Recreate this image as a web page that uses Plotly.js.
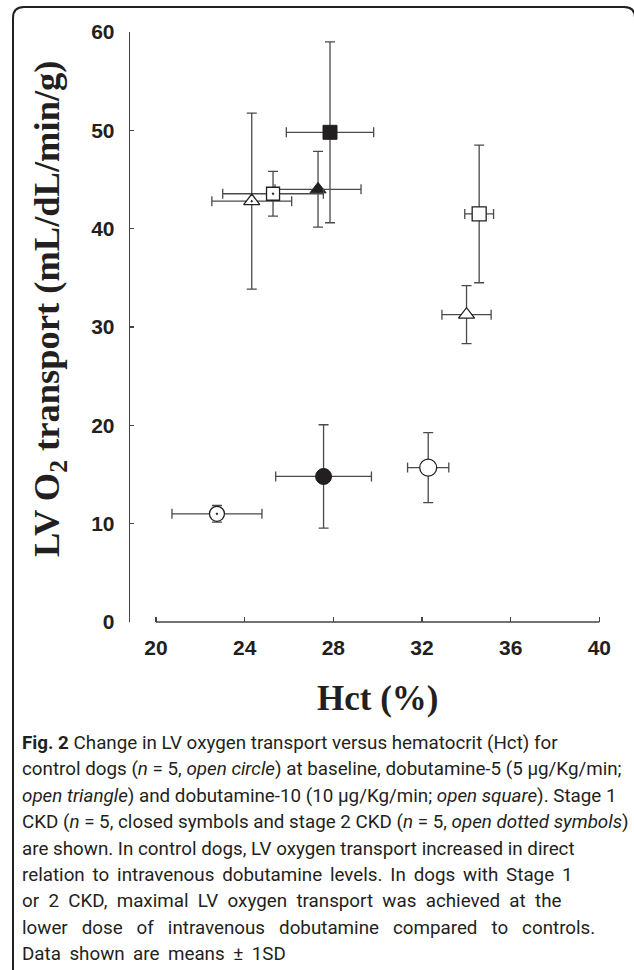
<!DOCTYPE html>
<html>
<head>
<meta charset="utf-8">
<script src="https://cdn.plot.ly/plotly-3.0.1.min.js"></script>
<style>
  html, body { margin: 0; padding: 0; background: #ffffff; }
  #chart { width: 634px; height: 970px; }
</style>
</head>
<body>
<div id="chart"></div>
<script>
// ---- data (means ± 1SD) ----
const conditions = ['Baseline', 'Dobutamine-5', 'Dobutamine-10'];

// Control dogs (open symbols)
const controlHct   = [32.28, 34.01, 34.58];
const controlHctSD = [0.93, 1.11, 0.65];
const controlO2    = [15.7, 31.25, 41.5];
const controlO2SD  = [3.55, 2.95, 7.0];

// Stage 1 CKD (closed symbols)
const stage1Hct   = [27.56, 27.31, 27.85];
const stage1HctSD = [2.16, 1.94, 1.97];
const stage1O2    = [14.8, 44.0, 49.8];
const stage1O2SD  = [5.26, 3.85, 9.2];

// Stage 2 CKD (open dotted symbols)
const stage2Hct   = [22.75, 24.32, 25.28];
const stage2HctSD = [2.03, 1.8, 2.27];
const stage2O2    = [11.0, 42.8, 43.55];
const stage2O2SD  = [0.85, 8.95, 2.27];

const xTicks = [20, 24, 28, 32, 36, 40];
const yTicks = [0, 10, 20, 30, 40, 50, 60];

const xTitle = 'Hct (%)';
const yTitle = 'LV O<sub>2</sub> transport (mL/dL/min/g)';

const captionLines = [
  '<b>Fig. 2</b> Change in LV oxygen transport versus hematocrit (Hct) for',
  'control dogs (<i>n</i> = 5, <i>open circle</i>) at baseline, dobutamine-5 (5 μg/Kg/min;',
  '<i>open triangle</i>) and dobutamine-10 (10 μg/Kg/min; <i>open square</i>). Stage 1',
  'CKD (<i>n</i> = 5, closed symbols and stage 2 CKD (<i>n</i> = 5, <i>open dotted symbols</i>)',
  'are shown. In control dogs, LV oxygen transport increased in direct',
  'relation to intravenous dobutamine levels. In dogs with Stage 1',
  'or 2 CKD, maximal LV oxygen transport was achieved at the',
  'lower dose of intravenous dobutamine compared to controls.',
  'Data shown are means ± 1SD'
];
// extra word spacing per caption line (the printed caption is justified)
const captionExtraGap = ['', '', '', '', '', '\u2006', '\u00A0', '\u00A0\u00A0', '\u2009'];

// ---- styling ----
const ink = '#231f20';
const barColor = '#4a4a4a';

function errBar(sd) { return {type: 'data', array: sd, visible: true, color: barColor, thickness: 1.3, width: 5}; }

const traces = [
  {
    name: 'Control', x: controlHct, y: controlO2, text: conditions,
    type: 'scatter', mode: 'markers',
    error_x: errBar(controlHctSD), error_y: errBar(controlO2SD),
    marker: {symbol: ['circle', 'triangle-up', 'square'], size: [17, 14, 14], opacity: 1,
             color: '#ffffff', line: {color: ink, width: 1.3}}
  },
  {
    name: 'Stage 1 CKD', x: stage1Hct, y: stage1O2, text: conditions,
    type: 'scatter', mode: 'markers',
    error_x: errBar(stage1HctSD), error_y: errBar(stage1O2SD),
    marker: {symbol: ['circle', 'triangle-up', 'square'], size: [16, 14, 14], opacity: 1,
             color: ink, line: {color: ink, width: 1}}
  },
  {
    name: 'Stage 2 CKD', x: stage2Hct, y: stage2O2, text: conditions,
    type: 'scatter', mode: 'markers',
    error_x: errBar(stage2HctSD), error_y: errBar(stage2O2SD),
    marker: {symbol: ['circle-dot', 'triangle-up-dot', 'square-dot'], size: [15, 14, 13], opacity: 1,
             color: '#ffffff', line: {color: ink, width: 1.3}}
  }
];

// ---- layout geometry (pixels) ----
const W = 634, H = 970;
const mL = 130, mR = 30, mT = 32, mB = 348;
const plotW = W - mL - mR, plotH = H - mT - mB;
function px2paperX(px) { return (px - mL) / plotW; }
function px2paperY(py) { return (H - mB - py) / plotH; }

// rounded frame around figure + caption
const fx0 = 13, fx1 = 635, fy0 = 7, fyB = 990, rad = 11;
const framePath =
  'M ' + px2paperX(fx0) + ' ' + px2paperY(fyB) +
  ' L ' + px2paperX(fx0) + ' ' + px2paperY(fy0 + rad) +
  ' Q ' + px2paperX(fx0) + ' ' + px2paperY(fy0) + ' ' + px2paperX(fx0 + rad) + ' ' + px2paperY(fy0) +
  ' L ' + px2paperX(fx1 - rad) + ' ' + px2paperY(fy0) +
  ' Q ' + px2paperX(fx1) + ' ' + px2paperY(fy0) + ' ' + px2paperX(fx1) + ' ' + px2paperY(fy0 + rad) +
  ' L ' + px2paperX(fx1) + ' ' + px2paperY(fyB);

const tickFont = {family: 'Liberation Sans, Arial, sans-serif', size: 21, color: ink, weight: 'bold'};
const titleFont = {family: 'Liberation Serif, Times New Roman, serif', color: ink, weight: 'bold'};
const captionFont = {family: 'Roboto, Lato, sans-serif', size: 18.8, color: ink};

const captionTop = 743, captionStep = 26.4;
const captionAnns = captionLines.map((t, i) => ({
  xref: 'paper', yref: 'paper', x: px2paperX(20), y: px2paperY(captionTop + i * captionStep),
  xanchor: 'left', yanchor: 'middle', align: 'left', showarrow: false,
  text: captionExtraGap[i] ? t.split(' ').join(' ' + captionExtraGap[i]) : t,
  font: captionFont
}));

const layout = {
  width: W, height: H,
  margin: {l: mL, r: mR, t: mT, b: mB, pad: 0},
  paper_bgcolor: '#ffffff', plot_bgcolor: '#ffffff',
  showlegend: false,
  xaxis: {
    range: [18.827, 40.212],
    tickvals: xTicks, ticktext: xTicks.map(String),
    ticks: 'inside', ticklen: 5, tickwidth: 1.2, tickcolor: '#444',
    showline: false, showgrid: false, zeroline: false,
    ticklabelstandoff: 11,
    tickfont: tickFont,
    automargin: false, fixedrange: true
  },
  yaxis: {
    range: [0, 60],
    tickvals: yTicks, ticktext: yTicks.map(String),
    ticks: 'inside', ticklen: 4, tickwidth: 1.2, tickcolor: '#444',
    showline: true, linecolor: '#444', linewidth: 1.3,
    showgrid: false, zeroline: false,
    ticklabelstandoff: 10,
    tickfont: tickFont,
    automargin: false, fixedrange: true
  },
  shapes: [
    // detached x-axis line from 20 to 40
    {type: 'line', xref: 'x', yref: 'paper', x0: xTicks[0], x1: xTicks[xTicks.length - 1], y0: 0, y1: 0,
     line: {color: '#444', width: 1.3}},
    {type: 'path', xref: 'paper', yref: 'paper', path: framePath,
     line: {color: ink, width: 2}}
  ],
  annotations: [
    {xref: 'x', yref: 'paper', x: (xTicks[0] + xTicks[xTicks.length - 1]) / 2, y: px2paperY(698),
     xanchor: 'center', yanchor: 'middle', showarrow: false,
     text: xTitle, font: Object.assign({size: 35}, titleFont)},
    {xref: 'paper', yref: 'paper', x: px2paperX(49), y: px2paperY(309), textangle: -90,
     xanchor: 'center', yanchor: 'middle', showarrow: false,
     text: yTitle, font: Object.assign({size: 36.5}, titleFont)}
  ].concat(captionAnns)
};

Plotly.newPlot('chart', traces, layout, {staticPlot: true, displayModeBar: false});
</script>
</body>
</html>
